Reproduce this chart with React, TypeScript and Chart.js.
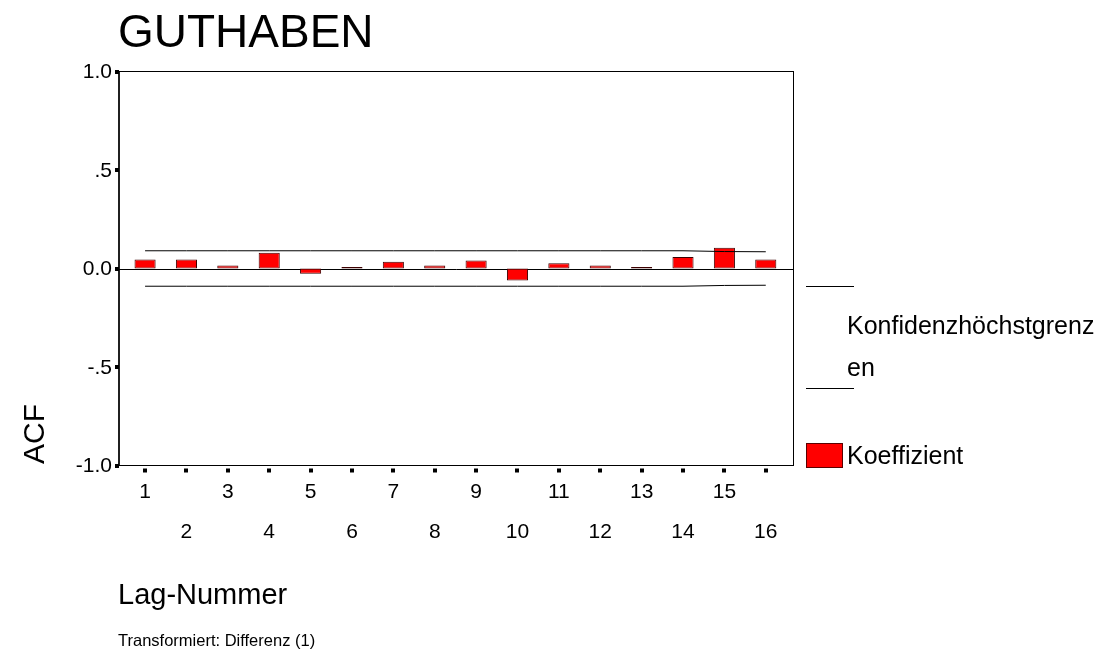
import React, { useEffect, useRef } from "react";
import { Chart, registerables } from "chart.js";

Chart.register(...registerables);

// Lag numbers and autocorrelation coefficients
const lags = [1, 2, 3, 4, 5, 6, 7, 8, 9, 10, 11, 12, 13, 14, 15, 16];
const acfValues = [0.046, 0.046, 0.015, 0.08, -0.027, 0.008, 0.034, 0.015, 0.041, -0.061, 0.027, 0.015, 0.008, 0.059, 0.105, 0.046];
// Confidence limits
const upperLimit = [0.09, 0.09, 0.09, 0.09, 0.09, 0.09, 0.09, 0.09, 0.09, 0.09, 0.09, 0.09, 0.09, 0.09, 0.086, 0.085];
const lowerLimit = [-0.09, -0.09, -0.09, -0.09, -0.09, -0.09, -0.09, -0.09, -0.09, -0.09, -0.09, -0.09, -0.09, -0.09, -0.086, -0.085];
// Axis ticks
const yTickValues = [1, 0.5, 0, -0.5, -1];
const yTickLabels = ["1.0", ".5", "0.0", "-.5", "-1.0"];
const xTickLabels = ["1", "2", "3", "4", "5", "6", "7", "8", "9", "10", "11", "12", "13", "14", "15", "16"];

const title = "GUTHABEN";
const yTitle = "ACF";
const xTitle = "Lag-Nummer";
const footnote = "Transformiert: Differenz (1)";
const legendLimitText = ["Konfidenzhöchstgrenz", "en"];
const legendBarText = "Koeffizient";

const W = 1100;
const H = 659;
const FONT = "'Liberation Sans', Arial, Helvetica, sans-serif";

const spssDecor = {
  id: "spssDecor",
  beforeDatasetsDraw(chart: any) {
    const { ctx, chartArea: a, scales } = chart;
    const y0 = Math.round(scales.y.getPixelForValue(0)) + 0.5;
    ctx.save();
    ctx.strokeStyle = "#000";
    ctx.lineWidth = 1;
    ctx.beginPath();
    ctx.moveTo(a.left, y0);
    ctx.lineTo(a.right, y0);
    ctx.stroke();
    ctx.restore();
  },
  afterDraw(chart: any) {
    const { ctx, chartArea: a, scales } = chart;
    const xs = scales.x;
    const ys = scales.y;
    ctx.save();
    ctx.fillStyle = "#000";
    ctx.strokeStyle = "#000";

    // plot frame
    ctx.lineWidth = 1;
    ctx.strokeRect(a.left, a.top, a.right - a.left, a.bottom - a.top);
    ctx.lineWidth = 1.5;
    ctx.beginPath();
    ctx.moveTo(a.left, a.top);
    ctx.lineTo(a.left, a.bottom);
    ctx.stroke();

    // y ticks and labels
    ctx.font = `21px ${FONT}`;
    ctx.textAlign = "right";
    ctx.textBaseline = "middle";
    yTickValues.forEach((v, i) => {
      const py = ys.getPixelForValue(v);
      ctx.fillRect(a.left - 4, Math.round(py) - 2, 4, 4);
      ctx.fillText(yTickLabels[i], a.left - 7, py + 1);
    });

    // x ticks and staggered labels
    ctx.textAlign = "center";
    lags.forEach((lag, i) => {
      const px = xs.getPixelForValue(lag);
      ctx.fillRect(Math.round(px) - 2, a.bottom + 3, 4, 4);
      const rowY = i % 2 === 0 ? a.bottom + 27 : a.bottom + 67;
      ctx.fillText(xTickLabels[i], px, rowY);
    });

    // titles
    ctx.textAlign = "left";
    ctx.textBaseline = "alphabetic";
    ctx.font = `46px ${FONT}`;
    ctx.fillText(title, 118, 47);
    ctx.font = `29px ${FONT}`;
    ctx.fillText(xTitle, 118, 604);
    ctx.font = `16.5px ${FONT}`;
    ctx.fillText(footnote, 118, 646);

    ctx.save();
    ctx.translate(44, 434);
    ctx.rotate(-Math.PI / 2);
    ctx.textAlign = "center";
    ctx.font = `30px ${FONT}`;
    ctx.fillText(yTitle, 0, 0);
    ctx.restore();

    // legend
    ctx.lineWidth = 1;
    ctx.beginPath();
    ctx.moveTo(806, 286.5);
    ctx.lineTo(854, 286.5);
    ctx.moveTo(806, 388.5);
    ctx.lineTo(854, 388.5);
    ctx.stroke();
    ctx.font = `25px ${FONT}`;
    ctx.textBaseline = "middle";
    ctx.fillText(legendLimitText[0], 847, 327);
    ctx.fillText(legendLimitText[1], 847, 369);
    ctx.fillStyle = "#ff0000";
    ctx.fillRect(806, 443, 37, 25);
    ctx.strokeStyle = "#5a0000";
    ctx.strokeRect(806.5, 443.5, 36, 24);
    ctx.fillStyle = "#000";
    ctx.fillText(legendBarText, 847, 457);
    ctx.restore();
  },
};

export default function App() {
  const ref = useRef<HTMLCanvasElement | null>(null);

  useEffect(() => {
    if (!ref.current) return;
    const chart = new Chart(ref.current, {
      type: "bar",
      data: {
        datasets: [
          {
            type: "bar",
            label: legendBarText,
            data: lags.map((l, i) => ({ x: l, y: acfValues[i] })),
            backgroundColor: "#ff0000",
            borderColor: "#3c0000",
            borderWidth: 1,
            borderSkipped: false,
            barPercentage: 0.51,
            categoryPercentage: 1,
            order: 2,
          } as any,
          {
            type: "line",
            label: "upper",
            data: lags.map((l, i) => ({ x: l, y: upperLimit[i] })),
            borderColor: "#000",
            borderWidth: 1,
            pointRadius: 0,
            tension: 0,
            fill: false,
            order: 1,
          } as any,
          {
            type: "line",
            label: "lower",
            data: lags.map((l, i) => ({ x: l, y: lowerLimit[i] })),
            borderColor: "#000",
            borderWidth: 1,
            pointRadius: 0,
            tension: 0,
            fill: false,
            order: 1,
          } as any,
        ],
      },
      options: {
        responsive: false,
        animation: false,
        devicePixelRatio: 1,
        layout: { padding: { left: 119, top: 71.5, right: W - 793.5, bottom: H - 465.5 } },
        scales: {
          x: { type: "linear", min: 0.37, max: 16.67, offset: false, display: false },
          y: { type: "linear", min: -1, max: 1, display: false },
        },
        plugins: { legend: { display: false }, tooltip: { enabled: false }, title: { display: false } },
      },
      plugins: [spssDecor],
    });
    return () => chart.destroy();
  }, []);

  return (
    <div style={{ position: "fixed", left: 0, top: 0, width: W, height: H, background: "#fff" }}>
      <canvas ref={ref} width={W} height={H} style={{ width: W, height: H }} />
    </div>
  );
}
